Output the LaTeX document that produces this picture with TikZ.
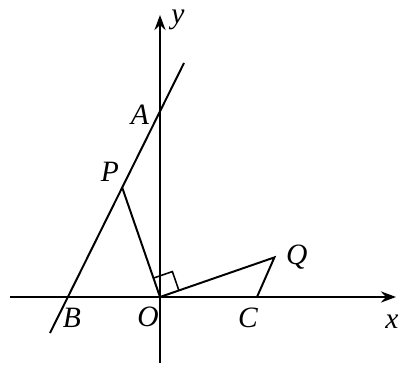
\documentclass[tikz,border=0pt]{standalone}
\usepackage{fontspec}
\setmainfont{Liberation Serif}
\usetikzlibrary{arrows.meta,calc}

\begin{document}
\begin{tikzpicture}[
  line/.style={line width=1.4pt},
  axis/.style={line width=1.4pt,-{Stealth[length=3.8mm,width=2.8mm,inset=1.3mm]}},
  lbl/.style={font=\fontsize{21}{24}\selectfont\itshape,inner sep=1pt}
]
  \useasboundingbox (-4,-1.725) rectangle (6.2,7.425);
  \coordinate (O) at (0,0);
  \coordinate (xs) at (-3.75,0);
  \coordinate (xe) at (5.9,0);
  \coordinate (ys) at (0,-1.65);
  \coordinate (ye) at (0,7.05);
  \coordinate (lineS) at (-2.75,-0.9);
  \coordinate (lineE) at (0.6,5.85);
  \coordinate (P) at (-0.95,2.75);
  \coordinate (Q) at (2.86,0.99);
  \coordinate (C) at (2.425,0);

  \draw[axis] (xs) -- (xe);
  \draw[axis] (ys) -- (ye);
  \draw[line] (lineS) -- (lineE);
  \draw[line] (P) -- (O) -- (Q) -- (C);
  % right angle at O
  \coordinate (r1) at ($(O)!0.5cm!(P)$);
  \coordinate (r2) at ($(O)!0.5cm!(Q)$);
  \draw[line width=1.1pt] (r1) -- ($(r1)+(r2)$) -- (r2);

  \node[lbl] (ylbl) at (0.45,6.92) {y};
  \node[lbl] (xlbl) at (5.8,-0.62) {x};
  \node[lbl] (Albl) at (-0.5,4.55) {A};
  \node[lbl] (Plbl) at (-1.25,3.12) {P};
  \node[lbl] (Qlbl) at (3.42,1.0) {Q};
  \node[lbl] (Olbl) at (-0.3,-0.5) {O};
  \node[lbl] (Blbl) at (-2.2,-0.52) {B};
  \node[lbl] (Clbl) at (2.2,-0.52) {C};
\end{tikzpicture}
\end{document}
